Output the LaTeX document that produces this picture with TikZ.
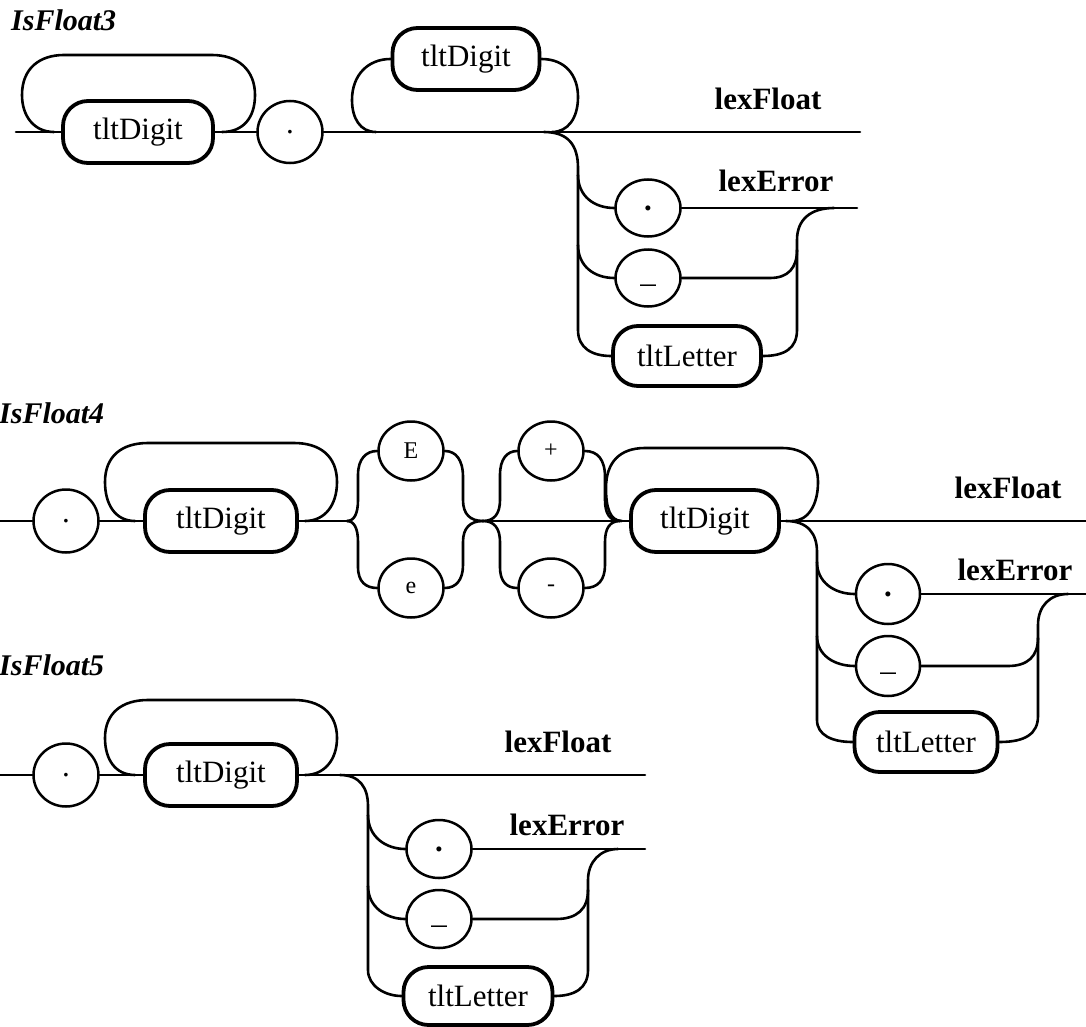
\documentclass[tikz,border=0pt]{standalone}
\usepackage{fontspec}
\setmainfont{Liberation Serif}
\usetikzlibrary{shapes.geometric}
\tikzset{
  conn/.style={line width=2.6pt, line cap=round, line join=round},
  term/.style={ellipse, draw, line width=2.5pt, inner sep=0pt,
    minimum width=65pt, minimum height=59pt, font=\fontsize{31}{36}\selectfont},
  smallterm/.style={term, font=\fontsize{24}{28}\selectfont},
  boldterm/.style={term, font=\fontsize{31}{36}\selectfont\bfseries},
  underterm/.style={term, text height=0.9em, text depth=0.1em},
  nterm/.style={rectangle, draw, line width=3.8pt, rounded corners=25pt,
    inner sep=0pt, minimum height=62pt, font=\fontsize{31}{36}\selectfont},
  lbl/.style={anchor=base, inner sep=0pt, font=\fontsize{31}{36}\selectfont\bfseries},
  ttl/.style={anchor=base west, inner sep=0pt, font=\fontsize{30}{36}\selectfont\bfseries\itshape}
}
\begin{document}
\begin{tikzpicture}[x=1pt, y=-1pt]
\useasboundingbox (0,0) rectangle (1086,1027);

% ---------------- IsFloat3 ----------------
\node[ttl] (t3) at (11,31) {IsFloat3};
\coordinate (s3) at (16,132);
\coordinate (f3) at (860,132);
\node[nterm, minimum width=150pt] (d3a) at (138,132) {tltDigit};
\node[term, minimum height=62pt] (p3) at (290,132) {.};
\node[nterm, minimum width=147pt] (d3b) at (466,59) {tltDigit};
\node[boldterm, minimum height=57pt] (q3) at (648,208) {.};
\node[underterm, minimum height=57pt] (u3) at (648,278) {\_};
\node[nterm, minimum width=148pt, minimum height=60pt] (l3) at (687,356) {tltLetter};
\node[lbl] (lf3) at (768,110) {lexFloat};
\node[lbl] (le3) at (776,192) {lexError};

\draw[conn] (s3) -- (d3a.west);
\draw[conn] (d3a.east) -- (p3.west);
\draw[conn] (p3.east) -- (f3);
% repetition loop over the first digit
\draw[conn] (54,132) .. controls (34,132) and (22,116) .. (22,95)
  .. controls (22,68) and (40,55) .. (64,55) -- (212,55)
  .. controls (238,55) and (255,70) .. (255,95)
  .. controls (255,118) and (243,132) .. (222,132);
% optional digits above the line
\draw[conn] (376,132) .. controls (360,132) and (352,118) .. (352,100)
  .. controls (352,75) and (368,59) .. (d3b.west);
\draw[conn] (d3b.east) .. controls (565,59) and (578,75) .. (578,97)
  .. controls (578,118) and (568,132) .. (552,132);
% error branch
\draw[conn] (544,132) .. controls (568,132) and (578,145) .. (578,168)
  -- (578,330) .. controls (578,348) and (592,356) .. (l3.west);
\draw[conn] (578,175) .. controls (578,196) and (594,208) .. (q3.west);
\draw[conn] (578,245) .. controls (578,266) and (594,278) .. (u3.west);
\draw[conn] (q3.east) -- (857,208);
\draw[conn] (u3.east) -- (770,278) .. controls (788,278) and (797,268) .. (797,250);
\draw[conn] (l3.east) .. controls (785,356) and (797,348) .. (797,330)
  -- (797,240) .. controls (797,220) and (810,208) .. (834,208);

% ---------------- IsFloat4 ----------------
\node[ttl] (t4) at (-1,423) {IsFloat4};
\coordinate (s4) at (0,521);
\coordinate (f4) at (1086,521);
\node[term, minimum height=63pt] (p4) at (66,521) {.};
\node[nterm, minimum width=152pt] (d4a) at (221,521) {tltDigit};
\node[smallterm] (eU) at (411,451) {E};
\node[smallterm] (eL) at (411,588) {e};
\node[smallterm] (sP) at (551,451) {+};
\node[smallterm] (sM) at (551,588) {-};
\node[nterm, minimum width=148pt] (d4b) at (705,521) {tltDigit};
\node[boldterm, minimum width=64pt, minimum height=60pt] (q4) at (888,594) {.};
\node[underterm, minimum width=64pt, minimum height=60pt] (u4) at (888,666) {\_};
\node[nterm, minimum width=143pt, minimum height=60pt] (l4) at (926,742) {tltLetter};
\node[lbl] (lf4) at (1008,498) {lexFloat};
\node[lbl] (le4) at (1015,580) {lexError};
\coordinate (x4) at (483,521);

\draw[conn] (s4) -- (p4.west);
\draw[conn] (p4.east) -- (d4a.west);
\draw[conn] (135,521) .. controls (115,521) and (105,504) .. (105,482)
  .. controls (105,456) and (122,443) .. (148,443) -- (294,443)
  .. controls (320,443) and (337,456) .. (337,482)
  .. controls (337,505) and (325,521) .. (305,521);
\draw[conn] (d4a.east) -- (347,521);
% choice of exponent letter
\draw[conn] (347,521) .. controls (354,521) and (358,514) .. (358,500)
  -- (358,475) .. controls (358,459) and (366,451) .. (eU.west);
\draw[conn] (347,521) .. controls (354,521) and (358,528) .. (358,542)
  -- (358,567) .. controls (358,582) and (366,588) .. (eL.west);
\draw[conn] (eU.east) .. controls (456,451) and (463,460) .. (463,477)
  -- (463,500) .. controls (463,514) and (470,521) .. (x4);
\draw[conn] (eL.east) .. controls (456,588) and (463,580) .. (463,565)
  -- (463,542) .. controls (463,528) and (470,521) .. (x4);
% optional sign
\draw[conn] (x4) .. controls (494,521) and (500,514) .. (500,500)
  -- (500,475) .. controls (500,459) and (507,451) .. (sP.west);
\draw[conn] (x4) .. controls (494,521) and (500,528) .. (500,542)
  -- (500,567) .. controls (500,582) and (507,588) .. (sM.west);
\draw[conn] (sP.east) .. controls (598,451) and (605,460) .. (605,477)
  -- (605,500) .. controls (605,514) and (610,521) .. (620,521);
\draw[conn] (sM.east) .. controls (598,588) and (605,580) .. (605,565)
  -- (605,542) .. controls (605,528) and (610,521) .. (620,521);
\draw[conn] (x4) -- (d4b.west);
\draw[conn] (622,521) .. controls (610,521) and (606,508) .. (606,488)
  .. controls (606,462) and (620,448) .. (645,448) -- (782,448)
  .. controls (806,448) and (818,462) .. (818,482)
  .. controls (818,505) and (808,521) .. (792,521);
\draw[conn] (d4b.east) -- (f4);
% error branch
\draw[conn] (786,521) .. controls (808,521) and (817,534) .. (817,552)
  -- (817,720) .. controls (817,735) and (832,742) .. (l4.west);
\draw[conn] (817,562) .. controls (817,582) and (834,594) .. (q4.west);
\draw[conn] (817,636) .. controls (817,655) and (834,666) .. (u4.west);
\draw[conn] (q4.east) -- (1086,594);
\draw[conn] (u4.east) -- (1008,666) .. controls (1028,666) and (1038,656) .. (1038,638);
\draw[conn] (l4.east) .. controls (1025,742) and (1038,734) .. (1038,716)
  -- (1038,625) .. controls (1038,606) and (1050,594) .. (1068,594);

% ---------------- IsFloat5 ----------------
\node[ttl] (t5) at (-1,675) {IsFloat5};
\coordinate (s5) at (0,775);
\coordinate (f5) at (645,775);
\node[term, minimum height=63pt] (p5) at (66,775) {.};
\node[nterm, minimum width=152pt] (d5a) at (221,775) {tltDigit};
\node[boldterm, minimum height=58pt] (q5) at (439,849) {.};
\node[underterm, minimum height=58pt] (u5) at (439,919) {\_};
\node[nterm, minimum width=149pt, minimum height=58pt] (l5) at (478,996) {tltLetter};
\node[lbl] (lf5) at (558,752) {lexFloat};
\node[lbl] (le5) at (567,835) {lexError};

\draw[conn] (s5) -- (p5.west);
\draw[conn] (p5.east) -- (d5a.west);
\draw[conn] (135,775) .. controls (115,775) and (105,759) .. (105,738)
  .. controls (105,713) and (122,700) .. (148,700) -- (294,700)
  .. controls (320,700) and (337,713) .. (337,738)
  .. controls (337,759) and (325,775) .. (305,775);
\draw[conn] (d5a.east) -- (f5);
% error branch
\draw[conn] (340,775) .. controls (360,775) and (368,788) .. (368,806)
  -- (368,970) .. controls (368,986) and (385,996) .. (l5.west);
\draw[conn] (368,815) .. controls (368,837) and (386,849) .. (q5.west);
\draw[conn] (368,886) .. controls (368,907) and (386,919) .. (u5.west);
\draw[conn] (q5.east) -- (645,849);
\draw[conn] (u5.east) -- (556,919) .. controls (577,919) and (588,909) .. (588,890);
\draw[conn] (l5.east) .. controls (575,996) and (588,988) .. (588,970)
  -- (588,880) .. controls (588,862) and (600,849) .. (618,849);
\end{tikzpicture}
\end{document}
